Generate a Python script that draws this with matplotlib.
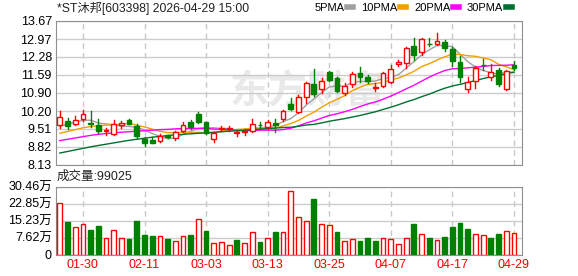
import matplotlib.pyplot as plt
import numpy as np
from matplotlib.lines import Line2D
from matplotlib.patches import Rectangle

plt.rcParams['font.family'] = ['Liberation Sans', 'Noto Sans CJK SC', 'DejaVu Sans']

title = "*ST沐邦[603398] 2026-04-29 15:00"
last_volume = "99025"

# one row per trading day, 2026-01-27 .. 2026-04-29
opens = [9.66, 9.82, 9.71, 9.90, 9.76, 9.68, 9.42, 9.32, 9.65, 9.87,
         9.62, 9.13, 9.08, 9.05, 9.27, 9.17, 9.44, 9.80, 10.09, 9.78,
         9.12, 9.53, 9.50, 9.37, 9.40, 9.44, 9.68, 9.60, 9.73, 9.89,
         10.48, 10.18, 10.76, 11.25, 11.04, 11.72, 11.49, 10.89, 11.25, 11.66,
         11.53, 11.10, 11.17, 11.31, 12.00, 12.07, 12.72, 12.49, 12.80, 12.80,
         12.87, 12.58, 12.08, 11.04, 11.36, 11.99, 11.53, 11.78, 11.05, 11.98]
closes = [9.99, 9.63, 9.85, 10.09, 9.71, 9.44, 9.47, 9.69, 9.76, 9.72,
          9.24, 8.99, 8.98, 9.26, 9.22, 9.39, 9.67, 9.60, 9.80, 9.35,
          9.38, 9.56, 9.57, 9.40, 9.44, 9.70, 9.65, 9.77, 9.67, 10.21,
          10.27, 10.76, 11.27, 10.85, 11.37, 11.40, 10.99, 11.17, 11.62, 11.53,
          11.37, 11.12, 11.66, 11.81, 12.08, 12.62, 12.36, 12.97, 12.78, 12.90,
          12.62, 12.14, 11.53, 11.34, 11.87, 11.96, 11.70, 11.24, 11.76, 11.87]
highs = [10.20, 9.93, 10.03, 10.24, 10.22, 9.90, 9.57, 9.85, 9.83, 9.91,
         9.72, 9.22, 9.21, 9.33, 9.30, 9.45, 9.80, 9.86, 10.16, 9.80,
         9.41, 9.62, 9.64, 9.47, 9.53, 9.90, 9.77, 9.86, 9.89, 10.25,
         10.72, 10.82, 11.34, 11.81, 11.47, 11.75, 11.53, 11.27, 11.72, 11.91,
         11.59, 11.27, 11.72, 11.98, 12.17, 12.68, 13.03, 13.03, 13.00, 13.22,
         12.94, 12.68, 12.32, 11.53, 11.95, 12.20, 12.02, 11.85, 11.78, 12.13]
lows = [9.54, 9.50, 9.67, 9.82, 9.60, 9.38, 9.28, 9.28, 9.57, 9.70,
        9.15, 8.87, 8.96, 9.03, 9.17, 9.10, 9.39, 9.52, 9.76, 9.31,
        9.03, 9.45, 9.45, 9.26, 9.29, 9.41, 9.57, 9.52, 9.41, 9.83,
        10.23, 10.12, 10.50, 10.80, 10.91, 11.38, 10.95, 10.82, 11.14, 11.34,
        11.27, 10.99, 11.14, 11.27, 11.95, 11.85, 12.17, 12.36, 12.72, 12.75,
        12.53, 11.94, 11.34, 10.95, 11.08, 11.78, 11.40, 11.17, 11.02, 11.78]
# volume in 万
volumes = [23.0, 14.6, 12.4, 13.6, 11.1, 12.9, 7.3, 10.9, 7.3, 7.0,
           15.1, 8.8, 8.4, 8.2, 7.0, 6.0, 8.2, 8.8, 15.9, 10.6,
           5.1, 5.5, 4.2, 6.6, 5.1, 10.0, 5.7, 7.3, 10.2, 10.0,
           28.4, 16.9, 15.0, 24.9, 13.6, 13.2, 10.2, 6.0, 6.9, 6.1,
           7.5, 6.1, 7.3, 6.9, 4.7, 7.3, 13.8, 9.1, 7.5, 6.4,
           7.9, 12.4, 14.2, 11.5, 9.1, 8.7, 7.5, 9.3, 10.5, 9.9025]

# moving averages before the window is full
ma5_head = [9.62, 9.70, 9.78, 9.85]
ma10_head = [9.35, 9.42, 9.49, 9.56, 9.61, 9.64, 9.66, 9.68, 9.70]
ma20_head = [9.07, 9.12, 9.17, 9.22, 9.27, 9.31, 9.34, 9.37, 9.39, 9.41,
             9.43, 9.45, 9.47, 9.49, 9.50, 9.52, 9.53, 9.54, 9.54]
ma30_head = [8.59, 8.65, 8.71, 8.77, 8.83, 8.88, 8.93, 8.98, 9.03, 9.08,
             9.12, 9.16, 9.20, 9.23, 9.26, 9.29, 9.31, 9.33, 9.35, 9.37,
             9.39, 9.41, 9.43, 9.45, 9.47, 9.49, 9.51, 9.53, 9.55]

date_ticks = [3, 11, 19, 27, 35, 43, 51, 59]
date_labels = ["01-30", "02-11", "03-03", "03-13", "03-25", "04-07", "04-17", "04-29"]
price_ticks = ["8.13", "8.82", "9.51", "10.20", "10.90", "11.59", "12.28", "12.97", "13.67"]
vol_ticks = ["0", "7.62万", "15.23万", "22.85万", "30.46万"]

ma_names = ["5PMA", "10PMA", "20PMA", "30PMA"]
ma_colors = ["#a0a0a0", "#f0a000", "#ff00ff", "#007030"]

RED = "#ff0000"
GREEN = "#008000"


def moving_average(head, n):
    c = np.array(closes)
    rest = [c[i - n + 1:i + 1].mean() for i in range(n - 1, len(c))]
    return list(head) + rest


def style_axes(ax):
    for s in ax.spines.values():
        s.set_color("#909090")
    ax.tick_params(length=0, labelsize=9, pad=3)
    ax.grid(axis="y", color="#cccccc", linewidth=1)
    for t in date_ticks:
        ax.axvline(t, color="#c8c8c8", linestyle=(0, (4, 3)), linewidth=1, zorder=0)
    ax.set_axisbelow(True)


fig = plt.figure(figsize=(5.78, 2.76), dpi=100)
ax = fig.add_axes([56 / 578, 1 - 165 / 276, 466 / 578, 144 / 276])
axv = fig.add_axes([56 / 578, 1 - 254.7 / 276, 466 / 578, 68 / 276])

n = len(closes)
x = np.arange(n)
w = 0.62

# faint site watermark
ax.text(0.54, 0.5, "东方财富", transform=ax.transAxes, fontsize=28, color="#e9e9e9",
        ha="center", va="center", fontweight="bold", zorder=0)

for i in x:
    o, c, h, l = opens[i], closes[i], highs[i], lows[i]
    if c >= o:
        ax.plot([i, i], [l, o], color=RED, linewidth=1, zorder=3)
        ax.plot([i, i], [c, h], color=RED, linewidth=1, zorder=3)
        ax.add_patch(Rectangle((i - w / 2, o), w, max(c - o, 0.01), facecolor="white",
                               edgecolor=RED, linewidth=1, zorder=4))
    else:
        ax.plot([i, i], [l, h], color=GREEN, linewidth=1, zorder=3)
        ax.add_patch(Rectangle((i - w / 2, c), w, o - c, facecolor=GREEN,
                               edgecolor=GREEN, linewidth=1, zorder=4))

for head, k, col in zip([ma5_head, ma10_head, ma20_head, ma30_head], [5, 10, 20, 30], ma_colors):
    ax.plot(x, moving_average(head, k), color=col, linewidth=1, zorder=2)

lo, hi = float(price_ticks[0]), float(price_ticks[-1])
ax.set_ylim(lo, hi)
ax.set_yticks(np.linspace(lo, hi, len(price_ticks)))
ax.set_yticklabels(price_ticks)
ax.set_xlim(-0.5, 60.05)
ax.set_xticks(date_ticks)
ax.set_xticklabels([])
style_axes(ax)

# volume bars: red when close is up on the day before
prev = [opens[0]] + closes[:-1]
for i in x:
    if closes[i] >= prev[i]:
        axv.bar(i, volumes[i], width=w, facecolor="white", edgecolor=RED, linewidth=1, zorder=3)
    else:
        axv.bar(i, volumes[i], width=w, facecolor=GREEN, edgecolor=GREEN, linewidth=1, zorder=3)

vmax = float(vol_ticks[-1].rstrip("万"))
axv.set_ylim(0, vmax)
axv.set_yticks(np.linspace(0, vmax, len(vol_ticks)))
axv.set_yticklabels(vol_ticks)
axv.set_xlim(-0.5, 60.05)
axv.set_xticks(date_ticks)
axv.set_xticklabels(date_labels, color=RED)
style_axes(axv)

fig.text(57 / 578, 1 - 8 / 276, title, fontsize=8.8, va="center", ha="left", color="#222222")
fig.text(57 / 578, 1 - 177 / 276, "成交量:" + last_volume, fontsize=9, va="center", ha="left",
         color="#222222")

handles = [Line2D([], [], color=col, linewidth=4) for col in ma_colors]
fig.legend(handles, ma_names, ncol=4, loc="center right", bbox_to_anchor=(512 / 578, 1 - 8 / 276),
           frameon=False, markerfirst=False, handlelength=0.55, handletextpad=0.25,
           columnspacing=0.7, fontsize=8, borderpad=0, borderaxespad=0)

fig.savefig("out.png", dpi=100)
